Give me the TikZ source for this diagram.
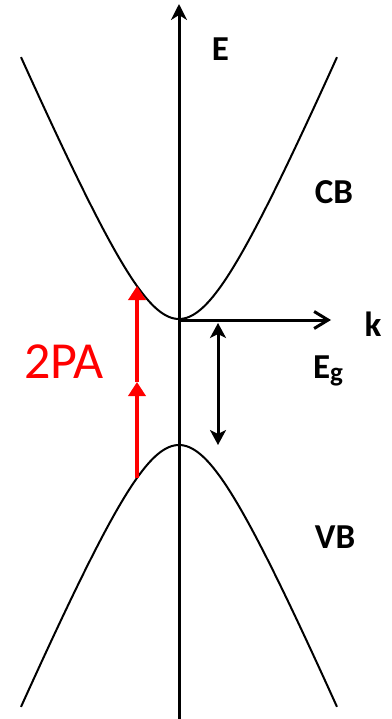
\documentclass[tikz,border=0pt]{standalone}
\usepackage{fontspec}
\setmainfont{Carlito}
\usetikzlibrary{arrows.meta}
\begin{document}
\begin{tikzpicture}[x=1pt,y=-1pt,
  axis/.style={line width=3pt, black},
  band/.style={line width=2pt, black},
  lbl/.style={font=\fontsize{35}{35}\selectfont\bfseries, inner sep=0pt},
  pa/.style={red, line width=4pt, -{Triangle[length=14pt,width=17pt]}},
]
\useasboundingbox (0,0) rectangle (391,719);
% key points
\coordinate (O) at (179,320);
\coordinate (Ybot) at (179,719);
\coordinate (Ytop) at (179,4);
\coordinate (Kend) at (331,320);
\coordinate (Gtop) at (218,323);
\coordinate (Gbot) at (218,445);
\coordinate (Rbot) at (137,478);
\coordinate (Rmid) at (137,382);
\coordinate (Rtop) at (137,286);
% bands (t in units of 10 px)
\draw[band] plot[domain=-15.8:15.8, samples=121, smooth]
  ({179+10*\x}, {319 - (10*sqrt(169 + 5.474*\x*\x) - 130)});
\draw[band] plot[domain=-15.8:15.8, samples=121, smooth]
  ({179+10*\x}, {445 + (10*sqrt(169 + 5.474*\x*\x) - 130)});
% axes
\draw[axis, -{Stealth[length=16pt,width=16pt,inset=5pt]}] (Ybot) -- (Ytop);
\draw[axis, -{Straight Barb[length=14pt,width=17pt]}] (O) -- (Kend);
\draw[axis, {Stealth[length=15pt,width=16pt,inset=4pt]}-{Stealth[length=15pt,width=16pt,inset=4pt]}] (Gtop) -- (Gbot);
% 2PA arrows
\draw[pa] (Rbot) -- (Rmid);
\draw[pa] (Rmid) -- (Rtop);
% labels
\node[lbl] (E) at (220.5,49) {E};
\node[lbl] (CB) at (334,192) {CB};
\node[lbl] (k) at (373,324) {k};
\node[lbl] (Eg) at (328,371) {E\raisebox{-3pt}{\fontsize{27}{27}\selectfont g}};
\node[lbl] (VB) at (335,537) {VB};
\node[red, font=\fontsize{52}{52}\selectfont, inner sep=0pt] (PA) at (64,362) {2PA};
\end{tikzpicture}
\end{document}
